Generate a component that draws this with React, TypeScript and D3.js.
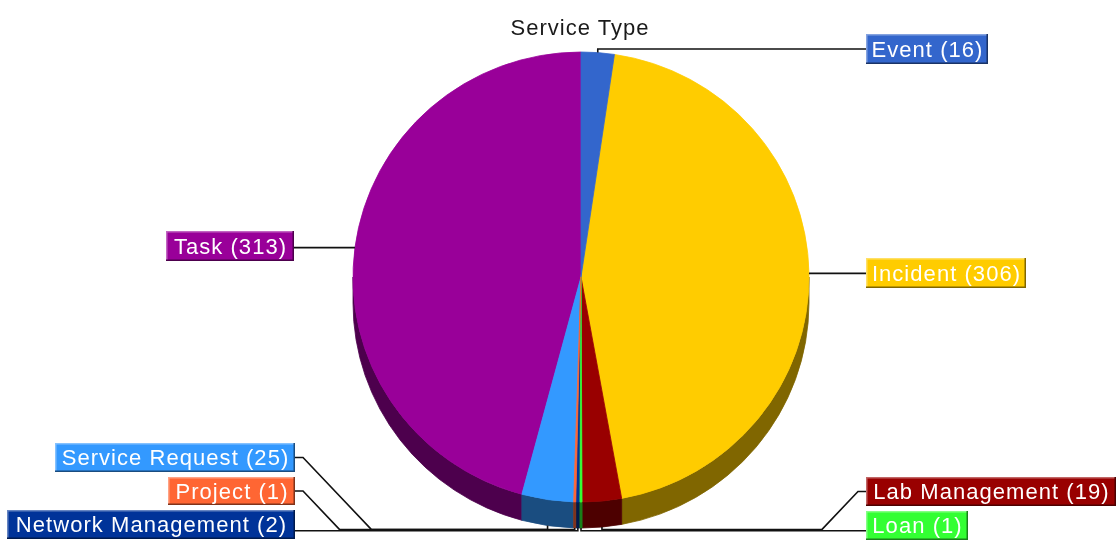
import React from "react";
import * as d3 from "d3";

const title = "Service Type";
const categories = ["Event", "Incident", "Lab Management", "Loan", "Network Management", "Project", "Service Request", "Task"];
const values = [16, 306, 19, 1, 2, 1, 25, 313];
const colors = ["#3366CC", "#FFCC00", "#990000", "#33FF33", "#003399", "#FF6633", "#3399FF", "#990099"];

const W = 1117, H = 540;
const cx = 581, cy = 277, rx = 228, ry = 225, depth = 26;
const FONT = "'Liberation Sans', Arial, sans-serif";
const FS = 22;

// label box: left edge, right edge, top, bottom; route: how the leader travels to the slice
const boxes = [
  { x0: 866, x1: 988, y0: 34, y1: 64, side: "r", route: "top" },
  { x0: 866, x1: 1026, y0: 258, y1: 288, side: "r", route: "direct" },
  { x0: 866, x1: 1116, y0: 477, y1: 506, side: "r", route: "elbow", busY: 529.6 },
  { x0: 866, x1: 968, y0: 511, y1: 540, side: "r", route: "flat", busY: 530.8 },
  { x0: 7, x1: 295, y0: 510, y1: 539, side: "l", route: "flat", busY: 530.8 },
  { x0: 168, x1: 295, y0: 477, y1: 505, side: "l", route: "elbow", busY: 529.6 },
  { x0: 55, x1: 295, y0: 443, y1: 472, side: "l", route: "elbow", busY: 529.6 },
  { x0: 166, x1: 294, y0: 231, y1: 261, side: "l", route: "direct" },
];

const pieGen = d3.pie<number>().sort(null).startAngle(0).endAngle(2 * Math.PI);
const arcs = pieGen(values);
// largest first, so that the thin slices stay visible on top
const drawOrder = d3.range(values.length).sort((a, b) => values[b] - values[a]);

const sx = d3.scaleLinear().domain([-1, 1]).range([cx - rx, cx + rx]);
const sy = d3.scaleLinear().domain([-1, 1]).range([cy - ry, cy + ry]);
const px = (a: number) => sx(Math.sin(a));
const py = (a: number) => sy(-Math.cos(a));

const shade = (c: string, k: number) => {
  const q = d3.rgb(c);
  return d3.rgb(q.r * k, q.g * k, q.b * k).formatHex();
};
const tint = (c: string, k: number) => d3.interpolateRgb(c, "#ffffff")(k);

function topPath(a0: number, a1: number) {
  const large = a1 - a0 > Math.PI ? 1 : 0;
  return `M${cx},${cy}L${px(a0)},${py(a0)}A${rx},${ry} 0 ${large} 1 ${px(a1)},${py(a1)}Z`;
}

function wallPath(a0: number, a1: number) {
  const s = Math.max(a0, Math.PI / 2);
  const e = Math.min(a1, (3 * Math.PI) / 2);
  if (e <= s) return null;
  return `M${px(s)},${py(s)}A${rx},${ry} 0 0 1 ${px(e)},${py(e)}L${px(e)},${py(e) + depth}A${rx},${ry} 0 0 0 ${px(s)},${py(s) + depth}Z`;
}

function leader(i: number) {
  const b = boxes[i];
  const a = (arcs[i].startAngle + arcs[i].endAngle) / 2;
  const x = px(a);
  const y = py(a);
  const midY = (b.y0 + b.y1) / 2;
  const edge = b.side === "r" ? b.x0 : b.x1;
  if (b.route === "top") {
    return `M${edge},${midY}L${x},${midY}L${x},${y}`;
  }
  if (b.route === "direct") {
    return `M${edge},${y}L${x},${y}`;
  }
  const bus = b.busY as number;
  const rimY = y + depth;
  if (b.route === "flat") {
    return `M${edge},${bus}L${x},${bus}L${x},${rimY}`;
  }
  const dir = b.side === "r" ? -1 : 1;
  const knee = edge + dir * 8;
  const run = bus - midY;
  return `M${edge},${midY}L${knee},${midY}L${knee + dir * run * 0.95},${bus}L${x},${bus}L${x},${rimY}`;
}

export default function App() {
  return (
    <svg width={W} height={H} style={{ position: "absolute", left: 0, top: 0, display: "block", background: "#fff", filter: "blur(0.45px)" }}>
      <text x={580} y={35} textAnchor="middle" fontFamily={FONT} fontSize={FS} letterSpacing={1} fill="#1a1a1a">
        {title}
      </text>
      <g>
        {drawOrder.map((i) => {
          const p = wallPath(arcs[i].startAngle, arcs[i].endAngle);
          return p ? <path key={i} d={p} fill={shade(colors[i], 0.5)} stroke={shade(colors[i], 0.5)} strokeWidth={0.8} /> : null;
        })}
        {drawOrder.map((i) => (
          <path key={i} d={topPath(arcs[i].startAngle, arcs[i].endAngle)} fill={colors[i]} stroke={colors[i]} strokeWidth={0.8} />
        ))}
      </g>
      <g fill="none" stroke="#111" strokeWidth={1.6}>
        {arcs.map((_, i) => (
          <path key={i} d={leader(i)} />
        ))}
      </g>
      {boxes.map((b, i) => {
        const c = colors[i];
        const label = `${categories[i]} (${values[i]})`;
        return (
          <g key={i}>
            <rect x={b.x0} y={b.y0} width={b.x1 - b.x0} height={b.y1 - b.y0} fill={c} />
            <path d={`M${b.x0 + 0.75},${b.y1}V${b.y0 + 0.75}H${b.x1}`} fill="none" stroke={tint(c, 0.4)} strokeWidth={1.5} />
            <path d={`M${b.x0},${b.y1 - 0.75}H${b.x1 - 0.75}V${b.y0}`} fill="none" stroke={shade(c, 0.5)} strokeWidth={1.5} />
            <text
              x={(b.x0 + b.x1) / 2 + 0.5}
              y={(b.y0 + b.y1) / 2 + 7.5}
              textAnchor="middle"
              fontFamily={FONT}
              fontSize={FS}
              letterSpacing={1.05}
              fill="#fff"
            >
              {label}
            </text>
          </g>
        );
      })}
    </svg>
  );
}
